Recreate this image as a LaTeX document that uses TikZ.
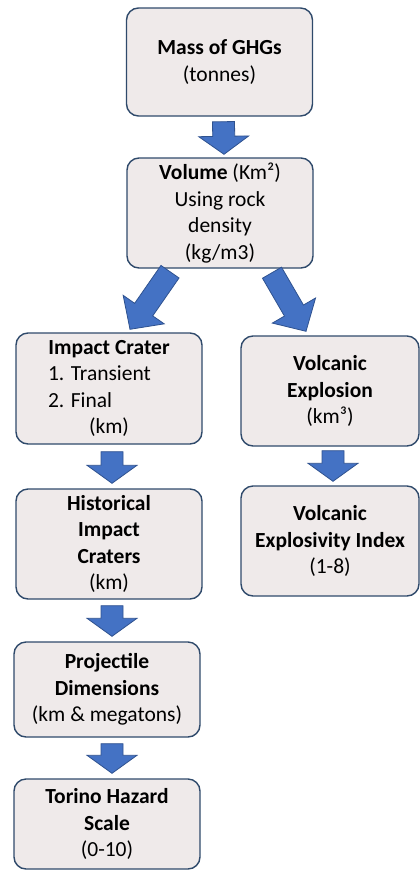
\documentclass[tikz,border=0pt]{standalone}
\usepackage{fontspec}
\setmainfont{Carlito}
\usetikzlibrary{calc}

\definecolor{boxfill}{HTML}{EFEAEA}
\definecolor{boxline}{HTML}{2F4A6B}
\definecolor{arrfill}{HTML}{4472C4}
\definecolor{arrline}{HTML}{2F528F}

\tikzset{
  stage/.style={draw=boxline, line width=1.4pt, fill=boxfill, rounded corners=12pt,
    align=center, minimum width=186pt, inner sep=2pt,
    font=\fontsize{21.5}{26.5}\selectfont},
  fat/.style={draw=arrline, line width=0.8pt, fill=arrfill}
}

% block arrow from #2 to #3, head length #1
\newcommand{\fatarrow}[3][18pt]{%
  \path (#2) coordinate (fa-s) (#3) coordinate (fa-e);
  \coordinate (fa-n) at ($(fa-e)!#1!(fa-s)$);
  \draw[fat] ($(fa-s)!11pt!90:(fa-e)$) -- ($(fa-n)!11pt!-90:(fa-s)$)
    -- ($(fa-n)!25pt!-90:(fa-s)$) -- (fa-e) -- ($(fa-n)!25pt!90:(fa-s)$)
    -- ($(fa-n)!11pt!90:(fa-s)$) -- ($(fa-s)!11pt!-90:(fa-e)$) -- cycle;}

\begin{document}
\begin{tikzpicture}[x=1pt, y=-1pt]
  \useasboundingbox (0,0) rectangle (420,871);
  % Boxes
  \node[stage, minimum height=108pt] (mass) at (219.5,62) {\textbf{Mass of GHGs}\\(tonnes)};
  \node[stage, minimum height=110pt] (vol) at (220,213) {\textbf{Volume} (Km²)\\Using rock\\density\\(kg/m3)};
  \node[stage, minimum height=111pt] (crater) at (109,388.5)
    {\textbf{Impact Crater}\\\makebox[122pt][l]{1. Transient}\\\makebox[122pt][l]{2. Final}\\(km)};
  \node[stage, minimum width=178pt, minimum height=110pt] (explo) at (330,391)
    {\textbf{Volcanic}\\\textbf{Explosion}\\(km³)};
  \node[stage, minimum height=110pt] (hist) at (109,544)
    {\textbf{Historical}\\\textbf{Impact}\\\textbf{Craters}\\(km)};
  \node[stage, minimum width=178pt, minimum height=110pt] (vei) at (330,541)
    {\textbf{Volcanic}\\\textbf{Explosivity Index}\\(1-8)};
  \node[stage, minimum height=95pt] (proj) at (107,689.5)
    {\textbf{Projectile}\\\textbf{Dimensions}\\(km \& megatons)};
  \node[stage, minimum height=90pt] (torino) at (107,824)
    {\textbf{Torino Hazard}\\\textbf{Scale}\\(0-10)};
  % Arrows
  \fatarrow{[xshift=4pt,yshift=-5pt]mass.south}{[xshift=4pt,yshift=3pt]vol.north}
  \fatarrow[24pt]{[xshift=-50pt,yshift=-3pt]vol.south}{[xshift=21pt,yshift=3pt]crater.north}
  \fatarrow[24pt]{[xshift=52pt,yshift=-4pt]vol.south}{[xshift=-24pt,yshift=4pt]explo.north}
  \fatarrow{[xshift=3pt,yshift=-7pt]crater.south}{[xshift=3pt,yshift=5pt]hist.north}
  \fatarrow{[xshift=3pt,yshift=-4pt]explo.south}{[xshift=3pt,yshift=4pt]vei.north}
  \fatarrow{[xshift=3pt,yshift=-6pt]hist.south}{[xshift=5pt,yshift=5pt]proj.north}
  \fatarrow{[xshift=5pt,yshift=-6pt]proj.south}{[xshift=5pt,yshift=5pt]torino.north}
\end{tikzpicture}
\end{document}
